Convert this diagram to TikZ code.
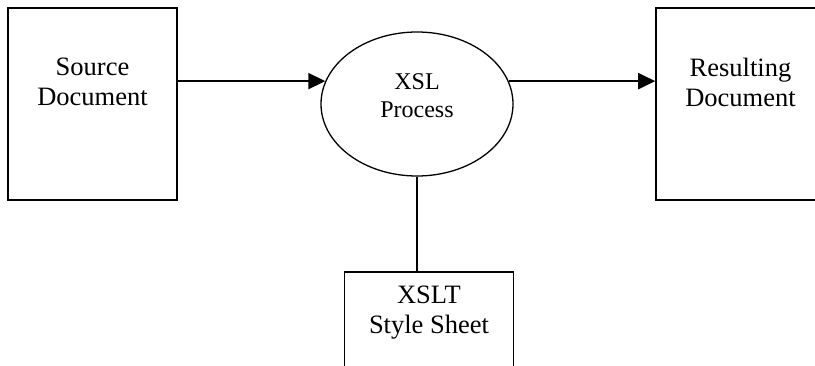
\documentclass[tikz,border=0pt]{standalone}
\usepackage{fontspec}
\setmainfont{Liberation Serif}
\usetikzlibrary{arrows.meta,shapes.geometric}
\begin{document}
\begin{tikzpicture}[x=1pt,y=-1pt,
  box/.style={draw,line width=1.6pt,rectangle,minimum width=169pt,minimum height=192pt,inner sep=0pt},
  proc/.style={draw,ellipse,line width=1.3pt,minimum width=192pt,minimum height=144pt,inner sep=0pt},
  lbl/.style={align=center,font=\fontsize{26.5}{30}\selectfont,inner sep=0pt},
  plbl/.style={align=center,font=\fontsize{24}{28}\selectfont,inner sep=0pt},
  arr/.style={line width=2.2pt,-{Triangle[length=17pt,width=16pt]}},
  link/.style={line width=1.8pt}]
\useasboundingbox (0,0) rectangle (815,366);
\clip (0,0) rectangle (815,366);
\fill[white] (0,0) rectangle (815,366);
\node[box] (src) at (92.5,104) {};
\node[box] (res) at (740.5,104) {};
\node[box] (xslt) at (429,368) {};
\node[proc] (xsl) at (417,104) {};
\node[lbl] (srcT) at (92.5,82) {Source\\Document};
\node[lbl] (resT) at (740.5,82) {Resulting\\Document};
\node[lbl] (xsltT) at (429,313) {XSLT\\Style Sheet};
\node[plbl] (xslT) at (417,96) {XSL\\Process};
\draw[arr] (src.east |- xsl.166) -- (xsl.166);
\draw[arr] (xsl.14) -- (xsl.14 -| res.west);
\draw[link] (xsl.south) -- (xsl.south |- xslt.north);
\end{tikzpicture}
\end{document}
